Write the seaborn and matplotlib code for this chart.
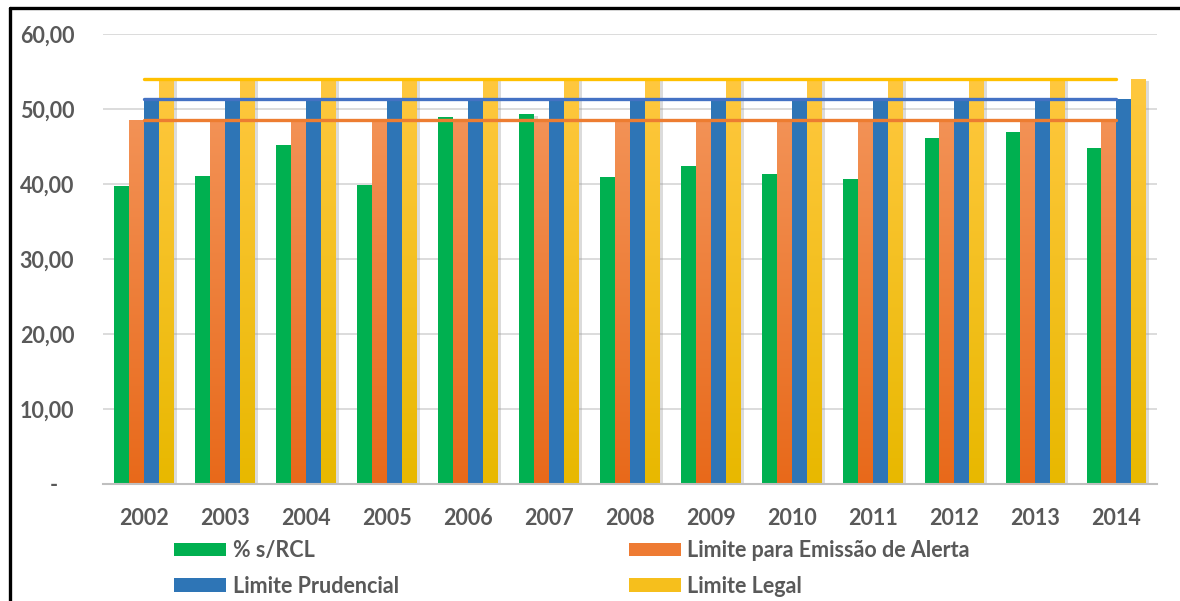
import numpy as np
import pandas as pd
import matplotlib
matplotlib.use("Agg")
import matplotlib.pyplot as plt
import seaborn as sns
from matplotlib.colors import LinearSegmentedColormap
from matplotlib.lines import Line2D
from matplotlib.patches import Patch
import matplotlib.patheffects as pe

# ---------------- data ----------------
years = ["2002", "2003", "2004", "2005", "2006", "2007", "2008",
         "2009", "2010", "2011", "2012", "2013", "2014"]
pct_rcl = [39.7, 41.1, 45.2, 39.9, 49.0, 49.4, 40.9, 42.4, 41.3, 40.7, 46.1, 46.9, 44.8]
limite_alerta = [48.6] * 13
limite_prudencial = [51.3] * 13
limite_legal = [54.0] * 13
series = ["% s/RCL", "Limite para Emissão de Alerta", "Limite Prudencial", "Limite Legal"]
ytick_values = [0, 10, 20, 30, 40, 50, 60]
ytick_labels = ["-   ", "10,00", "20,00", "30,00", "40,00", "50,00", "60,00"]

# ---------------- style ----------------
sns.set_theme(style="white")
plt.rcParams["font.family"] = ["Lato", "DejaVu Sans"]
txt = "#595959"

bar_colors = {"% s/RCL": "#00B050",
              "Limite para Emissão de Alerta": "#EE7B33",
              "Limite Prudencial": "#2E75B6",
              "Limite Legal": "#F6BF1C"}
grad = {"Limite para Emissão de Alerta": ("#F39256", "#E8691A"),
        "Limite Legal": ("#FFC83F", "#E8B800")}
line_colors = {"Limite para Emissão de Alerta": "#ED7D31",
               "Limite Prudencial": "#4472C4",
               "Limite Legal": "#FFC000"}

df = pd.DataFrame({
    "Ano": years * 4,
    "Serie": sum([[s] * len(years) for s in series], []),
    "Valor": pct_rcl + limite_alerta + limite_prudencial + limite_legal,
})

fig = plt.figure(figsize=(11.8, 6.01), dpi=100)
ax = fig.add_axes([0.0876, 0.1947, 0.8926, 0.7487])

sns.barplot(data=df, x="Ano", y="Valor", hue="Serie", hue_order=series,
            order=years, palette=bar_colors, width=0.73, saturation=1,
            legend=False, ax=ax, edgecolor="none", linewidth=0, errorbar=None)

shadow = [pe.SimplePatchShadow(offset=(2.5, -1.5), shadow_rgbFace="#9a9a9a", alpha=0.35),
          pe.Normal()]
gvec = np.linspace(0, 1, 256).reshape(-1, 1)
for cont, s in zip(ax.containers, series):
    for bar in cont:
        bar.set_path_effects(shadow)
        bar.set_zorder(2)
        if s in grad:
            top, bot = grad[s]
            cmap = LinearSegmentedColormap.from_list(s, [bot, top])
            x0, y0 = bar.get_x(), bar.get_y()
            w, h = bar.get_width(), bar.get_height()
            im = ax.imshow(gvec, extent=[x0, x0 + w, y0, y0 + h], origin="lower",
                           cmap=cmap, aspect="auto", zorder=2.1, interpolation="bilinear")
            im.set_clip_path(bar)

# limit lines across categories
xpos = np.arange(len(years))
for vals, s in [(limite_alerta, series[1]), (limite_prudencial, series[2]), (limite_legal, series[3])]:
    ax.plot(xpos, vals, color=line_colors[s], lw=2.4, solid_capstyle="round", zorder=4)

ax.set_xlim(-0.5, len(years) - 0.5)
ax.set_ylim(0, 60)
ax.set_yticks(ytick_values)
ax.set_yticklabels(ytick_labels)
ax.yaxis.grid(True, color="#D9D9D9", lw=1.3, zorder=0)
ax.set_axisbelow(True)
for sp in ["left", "right", "top"]:
    ax.spines[sp].set_visible(False)
ax.spines["bottom"].set_color("#BFBFBF")
ax.spines["bottom"].set_linewidth(1.5)
ax.tick_params(axis="y", length=0, pad=21, labelsize=15.5, labelcolor=txt)
ax.tick_params(axis="x", length=0, pad=17, labelsize=15.5, labelcolor=txt)
for lab in ax.get_xticklabels() + ax.get_yticklabels():
    lab.set_fontweight("bold")
ax.set_xlabel("")
ax.set_ylabel("")

# legend (column-wise order: green, blue | orange, yellow)
handles = [Patch(facecolor=bar_colors[s], edgecolor="none") for s in series]
order = [0, 2, 1, 3]
leg = fig.legend([handles[i] for i in order], [series[i] for i in order],
                 ncol=2, loc="upper left", bbox_to_anchor=(0.1405, 0.1155),
                 frameon=False, handlelength=2.42, handleheight=0.6,
                 handletextpad=0.28, labelspacing=0.68, columnspacing=10.68,
                 prop={"weight": "bold", "size": 15.5}, borderaxespad=0)
for t in leg.get_texts():
    t.set_color(txt)

# frame border (top and left)
fig.add_artist(Line2D([10 / 1180, 1.0], [1 - 8 / 601, 1 - 8 / 601],
                      transform=fig.transFigure, color="black", lw=2.4))
fig.add_artist(Line2D([10 / 1180, 10 / 1180], [0, 1 - 8 / 601],
                      transform=fig.transFigure, color="black", lw=2.4))

fig.savefig("out.png", dpi=100)
